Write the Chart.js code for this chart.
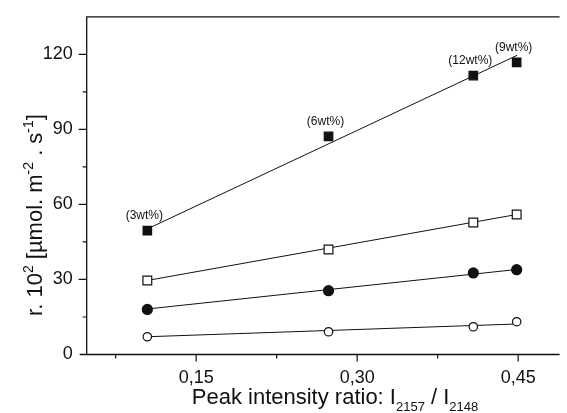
<!DOCTYPE html>
<html>
<head>
<meta charset="utf-8">
<script src="https://cdn.jsdelivr.net/npm/chart.js@4"></script>
<style>
  html, body { margin: 0; padding: 0; background: #fff; }
  #wrap { width: 567px; height: 413px; position: relative; }
</style>
</head>
<body>
<div id="wrap"><canvas id="rateChart"></canvas></div>
<script>
// peak intensity ratio for each loading
const ratio = [0.1045, 0.2733, 0.4082, 0.4486];
const wtLabels = ["(3wt%)", "(6wt%)", "(12wt%)", "(9wt%)"];

const filledSquares = [49.5, 87.2, 111.5, 116.8];
const openSquares = [29.6, 42.0, 52.8, 56.0];
const filledCircles = [18.0, 25.5, 32.6, 33.9];
const openCircles = [7.1, 9.1, 11.1, 13.1];

// straight-line fits, read at both ends
const fitX = [0.1045, 0.449];
const fitFilledSquares = [50.2, 119.6];
const fitOpenSquares = [29.6, 56.0];
const fitFilledCircles = [18.2, 34.0];
const fitOpenCircles = [7.1, 12.2];

const xTickValues = [0.075, 0.15, 0.225, 0.30, 0.375, 0.45];
const xTickLabels = ["", "0,15", "", "0,30", "", "0,45"];
const yTickValues = [0, 15, 30, 45, 60, 75, 90, 105, 120];
const yTickLabels = ["0", "", "30", "", "60", "", "90", "", "120"];

const FONT = "Arial, 'Liberation Sans', Helvetica, sans-serif";
const INK = "#111";

function pts(xs, ys) {
  return xs.map((x, i) => ({ x: x, y: ys[i] }));
}

function markerSet(ys, style, radius, filled) {
  return {
    data: pts(ratio, ys),
    showLine: false,
    pointStyle: style,
    pointRadius: radius,
    pointHoverRadius: radius,
    pointBackgroundColor: filled ? INK : "#fff",
    pointBorderColor: INK,
    pointBorderWidth: 1.2,
    order: 0,
  };
}

function fitSet(ys) {
  return {
    data: pts(fitX, ys),
    showLine: true,
    borderColor: INK,
    borderWidth: 1,
    pointRadius: 0,
    fill: false,
    order: 1,
  };
}

// draws text pieces in a row, small ones shifted by their offset
function drawParts(ctx, parts, centerX, baseY) {
  let tw = 0;
  parts.forEach(p => { ctx.font = p[1] + "px " + FONT; tw += ctx.measureText(p[0]).width; });
  let cx = centerX - tw / 2;
  parts.forEach(p => {
    ctx.font = p[1] + "px " + FONT;
    ctx.fillText(p[0], cx, baseY + p[2]);
    cx += ctx.measureText(p[0]).width;
  });
}

// axes frame, tick marks, wt% labels and both axis titles
const framePlugin = {
  id: "frame",
  afterDraw(chart) {
    const ctx = chart.ctx;
    const a = chart.chartArea;
    const xs = chart.scales.x;
    const ys = chart.scales.y;
    ctx.save();
    ctx.strokeStyle = INK;
    ctx.lineWidth = 1.3;
    ctx.beginPath();
    ctx.moveTo(a.left - 7, a.bottom);
    ctx.lineTo(a.right, a.bottom);
    ctx.moveTo(a.left, a.bottom);
    ctx.lineTo(a.left, a.top);
    ctx.lineTo(a.right, a.top);
    ctx.stroke();

    ctx.lineWidth = 1.2;
    ctx.beginPath();
    xTickValues.forEach((v, i) => {
      const px = xs.getPixelForValue(v);
      const len = xTickLabels[i] ? 7 : 4;
      ctx.moveTo(px, a.bottom);
      ctx.lineTo(px, a.bottom + len);
    });
    yTickValues.forEach((v, i) => {
      if (v === 0) return;
      const py = ys.getPixelForValue(v);
      const len = yTickLabels[i] ? 8 : 4;
      ctx.moveTo(a.left, py);
      ctx.lineTo(a.left - len, py);
    });
    ctx.stroke();

    // loading labels above the filled squares
    ctx.fillStyle = INK;
    ctx.font = "12px " + FONT;
    ctx.textAlign = "center";
    ctx.textBaseline = "middle";
    wtLabels.forEach((t, i) => {
      const px = xs.getPixelForValue(ratio[i]);
      const py = ys.getPixelForValue(filledSquares[i]);
      ctx.fillText(t, px - 3, py - 15);
    });

    ctx.textAlign = "left";
    ctx.textBaseline = "alphabetic";
    drawParts(ctx, [
      ["Peak intensity ratio: I", 22, 0],
      ["2157", 13, 7],
      [" / I", 22, 0],
      ["2148", 13, 7],
    ], 335, 404);

    ctx.translate(42, 215);
    ctx.rotate(-Math.PI / 2);
    drawParts(ctx, [
      ["r. 10", 22, 0],
      ["2", 14, -9],
      [" [\u00b5mol. m", 22, 0],
      ["-2", 14, -9],
      [" . s", 22, 0],
      ["-1", 14, -9],
      ["]", 22, 0],
    ], 0, 0);
    ctx.restore();
  },
};

new Chart(document.getElementById("rateChart"), {
  type: "scatter",
  data: {
    datasets: [
      markerSet(filledSquares, "rect", 6, true),
      markerSet(openSquares, "rect", 6.2, false),
      markerSet(filledCircles, "circle", 5, true),
      markerSet(openCircles, "circle", 4.2, false),
      fitSet(fitFilledSquares),
      fitSet(fitOpenSquares),
      fitSet(fitFilledCircles),
      fitSet(fitOpenCircles),
    ],
  },
  options: {
    responsive: true,
    maintainAspectRatio: false,
    animation: false,
    layout: { padding: { top: 15, right: 0, left: 0, bottom: 0 } },
    plugins: {
      legend: { display: false },
      tooltip: { enabled: false },
    },
    scales: {
      x: {
        type: "linear",
        min: 0.048,
        max: 0.4886,
        afterBuildTicks: s => { s.ticks = xTickValues.map(v => ({ value: v })); },
        afterFit: s => { s.height = 58.5; },
        grid: { display: false },
        border: { display: false },
        ticks: {
          autoSkip: false,
          maxRotation: 0,
          padding: 5,
          color: INK,
          font: { family: FONT, size: 18 },
          callback: (v, i) => xTickLabels[i],
        },
      },
      y: {
        min: 0,
        max: 135,
        afterBuildTicks: s => { s.ticks = yTickValues.map(v => ({ value: v })); },
        afterFit: s => { s.width = 86.7; },
        grid: { display: false },
        border: { display: false },
        ticks: {
          autoSkip: false,
          padding: 6,
          color: INK,
          font: { family: FONT, size: 18 },
          callback: (v, i) => yTickLabels[i],
        },
      },
    },
  },
  plugins: [framePlugin],
});
</script>
</body>
</html>
